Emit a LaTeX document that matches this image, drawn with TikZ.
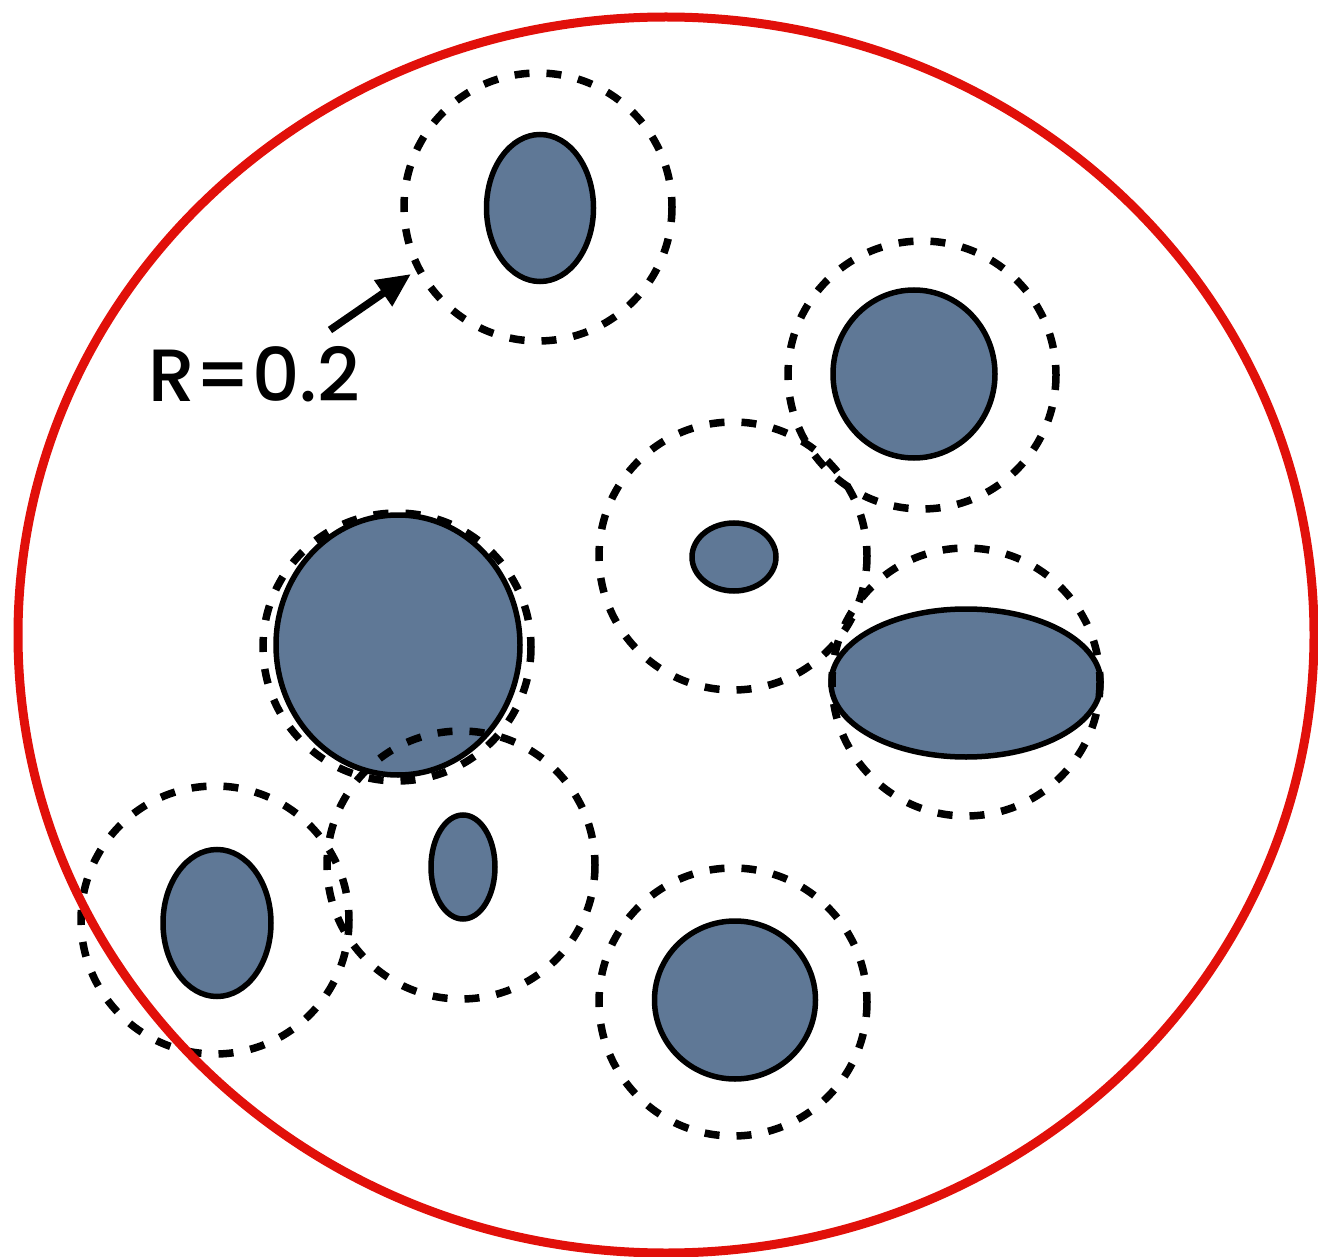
\documentclass[tikz,border=0pt]{standalone}
\usepackage{fontspec}
\setmainfont{Poppins}[UprightFont=* Medium]
\usetikzlibrary{arrows.meta}
\definecolor{blob}{RGB}{95,120,150}
\definecolor{redring}{RGB}{225,16,10}
\tikzset{
  blobstyle/.style={fill=blob, draw=black, line width=5.5pt},
  halo/.style={draw=black, line width=7.5pt, dash pattern=on 15pt off 17pt},
  outer/.style={draw=redring, line width=9pt},
}
\begin{document}
\begin{tikzpicture}[x=1pt,y=-1pt]
\useasboundingbox (0,0) rectangle (1318,1257);
% blobs
\draw[blobstyle] (540,208) ellipse [x radius=53.5, y radius=73.5];
\draw[blobstyle] (914,374) ellipse [x radius=81, y radius=84];
\draw[blobstyle] (734,557) ellipse [x radius=42, y radius=34];
\draw[blobstyle] (966,683) ellipse [x radius=135, y radius=74];
\draw[blobstyle] (398,645) ellipse [x radius=122, y radius=130];
\draw[blobstyle] (463,867) ellipse [x radius=32, y radius=52];
\draw[blobstyle] (217,923) ellipse [x radius=54, y radius=73.5];
\draw[blobstyle] (735,1000) ellipse [x radius=80.5, y radius=79];
% halos R=0.2
\draw[halo] (538,207) circle [radius=134];
\draw[halo] (922,375) circle [radius=134];
\draw[halo] (733,556) circle [radius=134];
\draw[halo] (966,682) circle [radius=134];
\draw[halo] (397,647) circle [radius=134];
\draw[halo] (461,865) circle [radius=134];
\draw[halo] (215,920) circle [radius=134];
\draw[halo] (733,1002) circle [radius=134];
% outer boundary
\draw[outer] (666,635) ellipse [x radius=648, y radius=618];
% label
\node[anchor=base west, inner sep=0pt, font=\fontsize{74}{88}\selectfont] (lbl) at (148,402) {R=0.2};
\coordinate (arrS) at (330,330);
\coordinate (arrE) at (411,274);
\draw[line width=7.5pt, -{Triangle[length=34pt,width=30pt]}] (arrS) -- (arrE);
\end{tikzpicture}
\end{document}
